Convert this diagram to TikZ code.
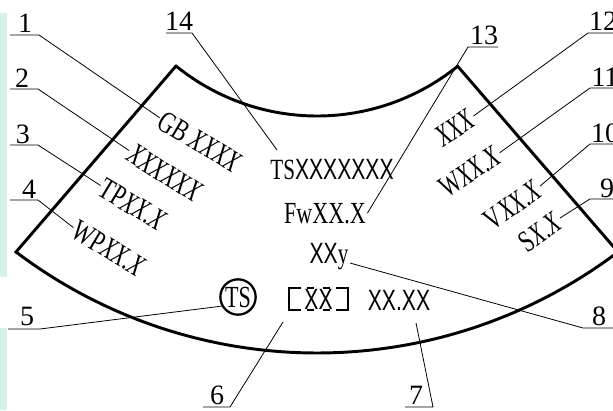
\documentclass[tikz,border=0pt]{standalone}
\usepackage{fontspec}
\setmainfont{Liberation Serif}
\newfontfamily\nserif[FakeStretch=0.72]{Liberation Serif}
\newfontfamily\nsans[FakeStretch=0.72]{Liberation Sans}
\definecolor{mint}{HTML}{D2F2E6}
\tikzset{
  outline/.style={line width=2.2pt, line join=miter},
  leader/.style={line width=0.6pt},
  num/.style={font=\fontsize{21}{21}\selectfont, inner sep=0pt, anchor=base},
  lbl/.style={font=\nserif\fontsize{23}{23}\selectfont, inner sep=1pt},
  slbl/.style={font=\nsans\fontsize{22}{22}\selectfont, inner sep=1pt},
  boxline/.style={line width=1.7pt},
}
\begin{document}
\begin{tikzpicture}[x=0.75pt,y=-0.75pt]
\useasboundingbox (0,0) rectangle (613,410);
% side strips
\fill[mint] (0,13) rectangle (7,277);
\fill[mint] (0,328) rectangle (7,410);
% outline of the sector
\draw[outline] (16,252) -- (176,66)
  -- plot[domain=0:1, samples=120] ({317+223.8*cos(129.05-78.1*\x)}, {-107.8+223.8*sin(129.05-78.1*\x)})
  -- (618,252)
  -- plot[domain=0:1, samples=160] ({317+499*cos(52.9+74.2*\x)}, {-146+499*sin(52.9+74.2*\x)})
  -- cycle;
% texts
\node[lbl, rotate=-31] (t1) at (200,142) {GB \textit{XXXX}};
\node[lbl, rotate=-32] (t2) at (165,173) {\textit{XXXXXX}};
\node[lbl, rotate=-31] (t3) at (133,205) {TP\textit{XX.X}};
\node[lbl, rotate=-31] (t4) at (109,249) {WP\textit{XX.X}};
\node[lbl, rotate=33] (t12) at (455,128) {\textit{XXX}};
\node[lbl, rotate=33] (t11) at (470,172) {W\textit{XX.X}};
\node[lbl, rotate=35] (t10) at (513,205) {V\textit{XX.X}};
\node[lbl, rotate=35] (t9) at (540,232) {S\textit{X.X}};
\node[slbl, anchor=base] (t14) at (332,179) {{\nserif TS}XXXXXXX};
\node[lbl, anchor=base] (t13) at (325,223) {FwXX.X};
\node[slbl, anchor=base] (t8) at (329,263) {XX{\nserif y}};
\node[slbl, anchor=base] (t7) at (399,310) {XX.XX};
\node[lbl, draw, circle, line width=1.7pt, inner sep=0pt, minimum size=26.5pt] (t5) at (238,297) {TS};
\node[slbl] (t6) at (318.5,299) {XX};
% box symbol around t6
\draw[boxline] (301,288) -- (289,288) -- (289,310) -- (301,310);
\draw[boxline] (336,288) -- (348,288) -- (348,310) -- (336,310);
\draw[boxline] (307,288) -- (314,288) (323,288) -- (330,288)
               (307,310) -- (314,310) (323,310) -- (330,310);
% numbers
\node[num] (n1) at (25,33) {1};
\node[num] (n2) at (22,87) {2};
\node[num] (n3) at (23,143) {3};
\node[num] (n4) at (29,198) {4};
\node[num] (n5) at (27,325) {5};
\node[num] (n6) at (217,404) {6};
\node[num] (n7) at (416,404) {7};
\node[num] (n8) at (599,325) {8};
\node[num] (n9) at (607,197) {9};
\node[num] (n10) at (605,142) {10};
\node[num] (n11) at (605,86) {11};
\node[num] (n12) at (603,31) {12};
\node[num] (n13) at (484,45) {13};
\node[num] (n14) at (179,31) {14};
% leader ends
\coordinate (a1) at (10,35);  \coordinate (b1) at (39,35);
\coordinate (a2) at (10,89);  \coordinate (b2) at (38,89);
\coordinate (a3) at (10,145); \coordinate (b3) at (38,145);
\coordinate (a4) at (10,200); \coordinate (b4) at (38,200);
\coordinate (a5) at (8,329);  \coordinate (b5) at (40,329);
\coordinate (a6) at (203,407); \coordinate (b6) at (230,407);
\coordinate (a7) at (405,407); \coordinate (b7) at (433,407);
\coordinate (a8) at (620,328); \coordinate (b8) at (583,328);
\coordinate (a9) at (620,199); \coordinate (b9) at (590,199);
\coordinate (a10) at (620,144); \coordinate (b10) at (590,144);
\coordinate (a11) at (620,88); \coordinate (b11) at (590,88);
\coordinate (a12) at (620,33); \coordinate (b12) at (588,33);
\coordinate (a13) at (498,47); \coordinate (b13) at (468,47);
\coordinate (a14) at (166,33); \coordinate (b14) at (192,33);
\coordinate (e6) at (283,322);
\coordinate (e7) at (416,323);
\coordinate (e14) at (277,150);
% leaders
\draw[leader] (a1) -- (b1) -- (t1.west);
\draw[leader] (a2) -- (b2) -- (t2.west);
\draw[leader] (a3) -- (b3) -- (t3.west);
\draw[leader] (a4) -- (b4) -- (t4.west);
\draw[leader] (a5) -- (b5) -- (t5.209);
\draw[leader] (a6) -- (b6) -- (e6);
\draw[leader] (a7) -- (b7) -- (e7);
\draw[leader] (a8) -- (b8) -- (t8.base east);
\draw[leader] (a9) -- (b9) -- (t9.east);
\draw[leader] (a10) -- (b10) -- (t10.east);
\draw[leader] (a11) -- (b11) -- (t11.east);
\draw[leader] (a12) -- (b12) -- (t12.east);
\draw[leader] (a13) -- (b13) -- (t13.east);
\draw[leader] (a14) -- (b14) -- (e14);
\end{tikzpicture}
\end{document}
